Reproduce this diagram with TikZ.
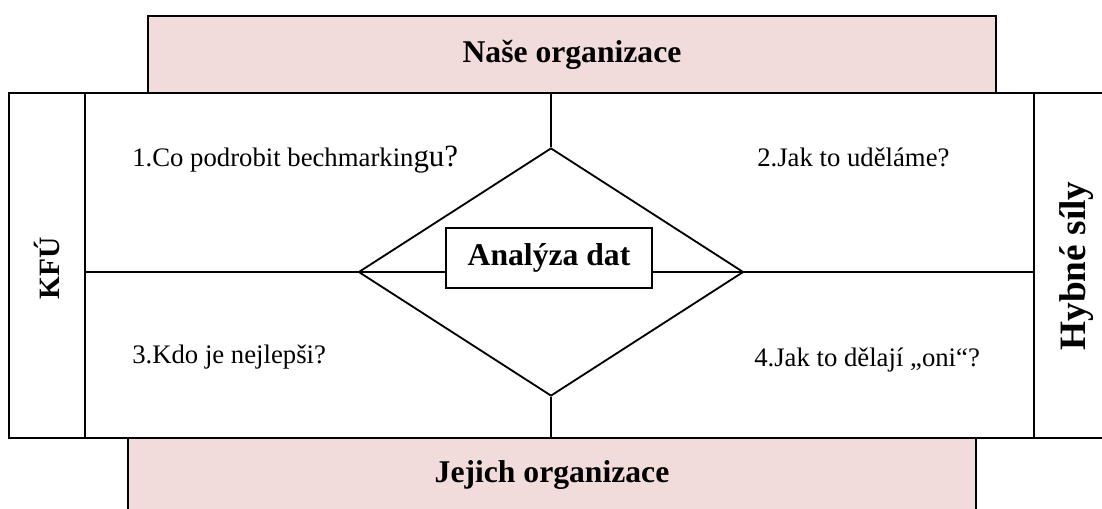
\documentclass[tikz,border=0pt]{standalone}
\usepackage{fontspec}
\setmainfont{Liberation Serif}
\usetikzlibrary{shapes.geometric}
\definecolor{pinkfill}{HTML}{F2DCDB}

\begin{document}
\begin{tikzpicture}[x=0.025cm, y=-0.025cm,
frame/.style={line width=1.5pt},
thin line/.style={line width=1.1pt},
titlebox/.style={draw, frame, fill=pinkfill, minimum width=848*0.025cm, font=\fontsize{22.5}{26}\selectfont\bfseries},
question/.style={anchor=west, inner sep=0pt, font=\fontsize{19}{22}\selectfont},
side/.style={rotate=90, font=\bfseries}]
\useasboundingbox (0,0) rectangle (1102,508);
\node[titlebox, minimum height=77*0.025cm] (nase) at (572,54.5) {Naše organizace};
\node[titlebox, minimum height=76*0.025cm, text depth=6pt] (jejich) at (552,476) {Jejich organizace};
\coordinate (tl) at (9,93);
\coordinate (br) at (1112,438);
\draw[frame] (tl) rectangle (br);
\coordinate (kfutop) at (85,93);
\coordinate (kfubot) at (85,438);
\coordinate (hybtop) at (1034,93);
\coordinate (hybbot) at (1034,438);
\draw[thin line] (kfutop) -- (kfubot);
\draw[thin line] (hybtop) -- (hybbot);
\node[side, font=\fontsize{21}{24}\selectfont\bfseries] (kfu) at (47,268) {KFÚ};
\node[side, font=\fontsize{26.5}{30}\selectfont\bfseries] (hybne) at (1077,266) {Hybné síly};
\node[diamond, draw, line width=1.3pt, minimum width=385*0.025cm, minimum height=248*0.025cm, inner sep=0pt] (dia) at (551,272) {};
\node[draw, line width=1.3pt, minimum width=206*0.025cm, minimum height=60*0.025cm, font=\fontsize{22.5}{26}\selectfont\bfseries] (analyza) at (549,258) {Analýza dat};
\coordinate (midtop) at (dia.north |- tl);
\coordinate (midbot) at (dia.south |- br);
\coordinate (midleft) at (kfubot |- dia.west);
\coordinate (midright) at (hybbot |- dia.east);
\draw[thin line] (midtop) -- (dia.north);
\draw[thin line] (dia.south) -- (midbot);
\draw[thin line] (midleft) -- (dia.west) -- (dia.west -| analyza.west);
\draw[thin line] (dia.east -| analyza.east) -- (dia.east) -- (midright);
\node[question] (q1) at (132,160) {1.Co podrobit bechmarkin{\fontsize{22}{26}\selectfont gu?}};
\node[question] (q2) at (757,157) {2.Jak to uděláme?};
\node[question] (q3) at (132,357) {3.Kdo je nejlepši?};
\node[question] (q4) at (754,360) {4.Jak to dělají „oni“?};
\end{tikzpicture}
\end{document}
